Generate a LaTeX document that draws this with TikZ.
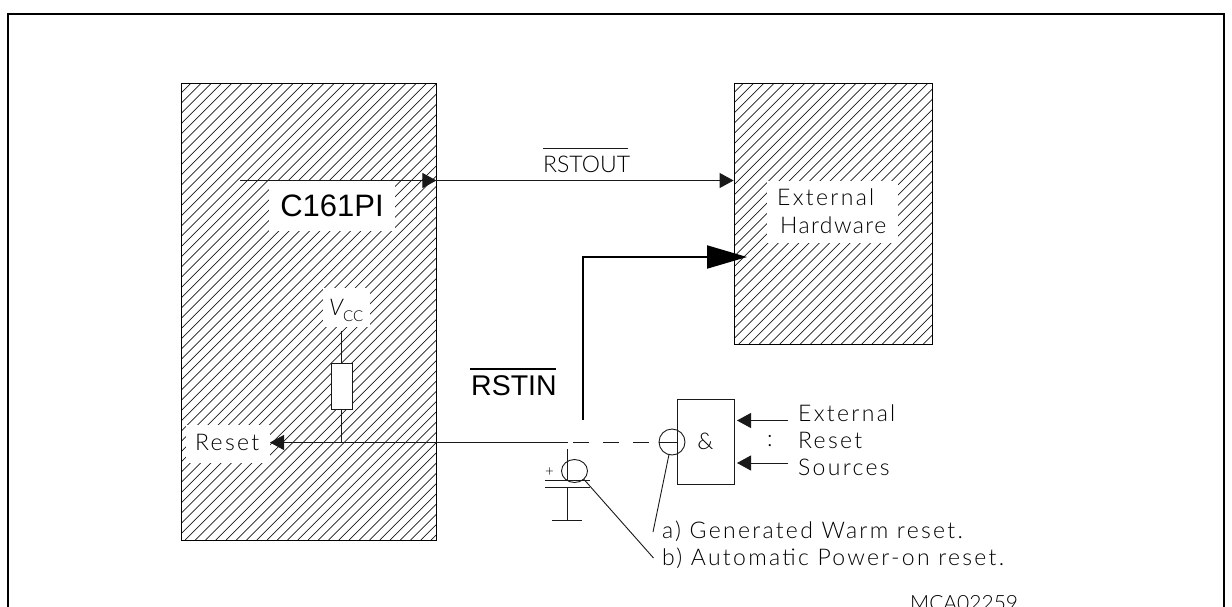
\documentclass[tikz,border=0pt]{standalone}
\usepackage{fontspec}
\usepackage{xcolor}
\usetikzlibrary{arrows.meta,shapes.geometric}
\newfontfamily\cadfont[UprightFont=* Light,ItalicFont=* Light Italic,LetterSpace=10]{Lato}
\newfontfamily\tightfont[UprightFont=* Light]{Lato}
\newfontfamily\midfont[UprightFont=* Light,LetterSpace=6]{Lato}
\newfontfamily\headfont{Liberation Sans}
\newcommand{\hatchlines}[5]{
  \begin{scope}
  \clip (#1,#2) rectangle (#3,#4);
  \foreach \k in {0,...,72}
    \draw[line width=0.7pt,black!90] ({#5+\k*10.25-#2},#2) -- ({#5+\k*10.25-#4},#4);
  \end{scope}
}
\tikzset{
  hatchbox/.style={draw,line width=0.8pt,inner sep=0pt},
  patchbox/.style={fill=white,inner sep=0pt},
  cadlabel/.style={font=\cadfont\fontsize{23}{23}\selectfont,inner sep=0pt,anchor=base west,text=black},
  headlabel/.style={font=\headfont\fontsize{28.5}{29}\selectfont,inner sep=0pt},
  wire/.style={line width=0.9pt,black!90},
  smallhead/.style={-{Triangle[length=14pt,width=15pt]}},
  bighead/.style={-{Triangle[length=40pt,width=23pt]}}
}
\begin{document}
\begin{tikzpicture}[x=1pt,y=-1pt]
\useasboundingbox (0,0) rectangle (1232,606);
\draw[line width=2pt] (7.5,620) |- (1223.5,13.5) -- (1223.5,620);

\hatchlines{181}{83}{436}{540}{263.75}
\hatchlines{734}{83}{932}{344}{816.25}
\node[hatchbox,minimum width=255pt,minimum height=457pt] (chip) at (308.5,311.5) {};
\node[hatchbox,minimum width=198pt,minimum height=261pt] (ext) at (833,213.5) {};

\node[patchbox,minimum width=126pt,minimum height=50pt,font=\headfont\fontsize{31}{31}\selectfont] (chiplabel) at (332,205.5) {C161PI};
\node[patchbox,minimum width=47pt,minimum height=39pt] (vccpatch) at (346.5,307.5) {};
\node[patchbox,minimum width=84pt,minimum height=38pt] (resetpatch) at (228,444) {};
\node[patchbox,minimum width=131pt,minimum height=62pt] (extpatch) at (832.5,212) {};

\node[cadlabel] (resetlabel) at (195,450) {Reset};
\node[cadlabel] (extlabela) at (777,205) {External};
\node[cadlabel,font=\midfont\fontsize{23}{23}\selectfont] (extlabelb) at (780,233) {Hardware};
\node[cadlabel] (vcclabel) at (329,315) {\textit{V}};
\node[cadlabel,font=\tightfont\fontsize{15}{15}\selectfont] (cclabel) at (343,321) {CC};
\node[cadlabel,font=\tightfont\fontsize{23}{23}\selectfont] (rstoutlabel) at (543,172) {RSTOUT};
\node[headlabel,anchor=base west] (rstinlabel) at (471,395) {RSTIN};
\draw[line width=2pt] (470,368.5) -- (556,368.5);
\draw[wire] (543,148) -- (628,148);

\coordinate (rstoutstart) at (240,180.5);
\draw[wire,smallhead] (rstoutstart) -- (chip.east |- rstoutstart);
\draw[wire,smallhead] (chip.east |- rstoutstart) -- (ext.west |- rstoutstart);

\coordinate (rstinstart) at (583,420);
\coordinate (rstincorner) at (583,257);
\coordinate (rstinend) at (747,257);
\draw[line width=2pt,bighead] (rstinstart) -- (rstincorner) -- (rstinend);

\node[draw,wire,fill=white,minimum width=21pt,minimum height=46pt,inner sep=0pt] (res) at (341.5,386) {};
\coordinate (vcctop) at (341.5,331);
\coordinate (resetnode) at (341.5,442.5);
\coordinate (resetend) at (270,442.5);
\coordinate (solidend) at (567.5,442.5);
\coordinate (dashstart) at (573,442.5);
\coordinate (dashend) at (649,442.5);
\draw[wire] (vcctop) -- (res.north);
\draw[wire] (res.south) -- (resetnode);
\draw[wire,smallhead] (solidend) -- (resetend);
\draw[wire,dash pattern=on 16pt off 14pt] (dashstart) -- (dashend);

\node[draw,wire,minimum width=57pt,minimum height=85pt,inner sep=0pt,font=\tightfont\fontsize{23}{23}\selectfont,text=black] (gate) at (705.5,441.5) {\&};
\node[draw,wire,circle,minimum size=26pt,inner sep=0pt] (warm) at (672,442) {};
\draw[wire] (warm.west) -- (gate.west |- warm.west);

\coordinate (srcaend) at (737,420.5);
\coordinate (srcastart) at (788,420.5);
\coordinate (srcbend) at (737,463);
\coordinate (srcbstart) at (788,463);
\draw[wire,smallhead] (srcastart) -- (srcaend);
\draw[wire,smallhead] (srcbstart) -- (srcbend);
\node[cadlabel,anchor=center] (dots) at (770,441) {:};
\node[cadlabel] (srclabela) at (798,421) {External};
\node[cadlabel] (srclabelb) at (798,448) {Reset};
\node[cadlabel] (srclabelc) at (798,475) {Sources};

\coordinate (captop) at (567.5,449);
\coordinate (capupper) at (567.5,480.5);
\coordinate (caplower) at (567.5,487.5);
\coordinate (capgnd) at (567.5,520);
\draw[wire] (captop) -- (capupper);
\draw[wire] (caplower) -- (capgnd);
\draw[wire] (545,480.5) -- (590,480.5);
\draw[wire] (545,487.5) -- (590,487.5);
\draw[wire] (552,520) -- (582,520);
\node[inner sep=0pt,font=\tightfont\fontsize{15}{15}\selectfont] (plus) at (549.5,472) {+};
\node[draw,wire,ellipse,minimum width=26pt,minimum height=23pt,inner sep=0pt] (power) at (574.5,471) {};

\coordinate (leadera) at (653,532);
\coordinate (leaderb) at (653.5,558);
\draw[wire] (warm.south) ++(-3,-1) -- (leadera);
\draw[wire] (power.south east) -- (leaderb);
\node[cadlabel] (notea) at (662,538) {a) Generated Warm reset.};
\node[cadlabel] (noteb) at (662,565) {b) Automatic Power-on reset.};
\node[cadlabel,font=\tightfont\fontsize{21}{21}\selectfont] (drawingno) at (910,610) {MCA02259};
\end{tikzpicture}
\end{document}
